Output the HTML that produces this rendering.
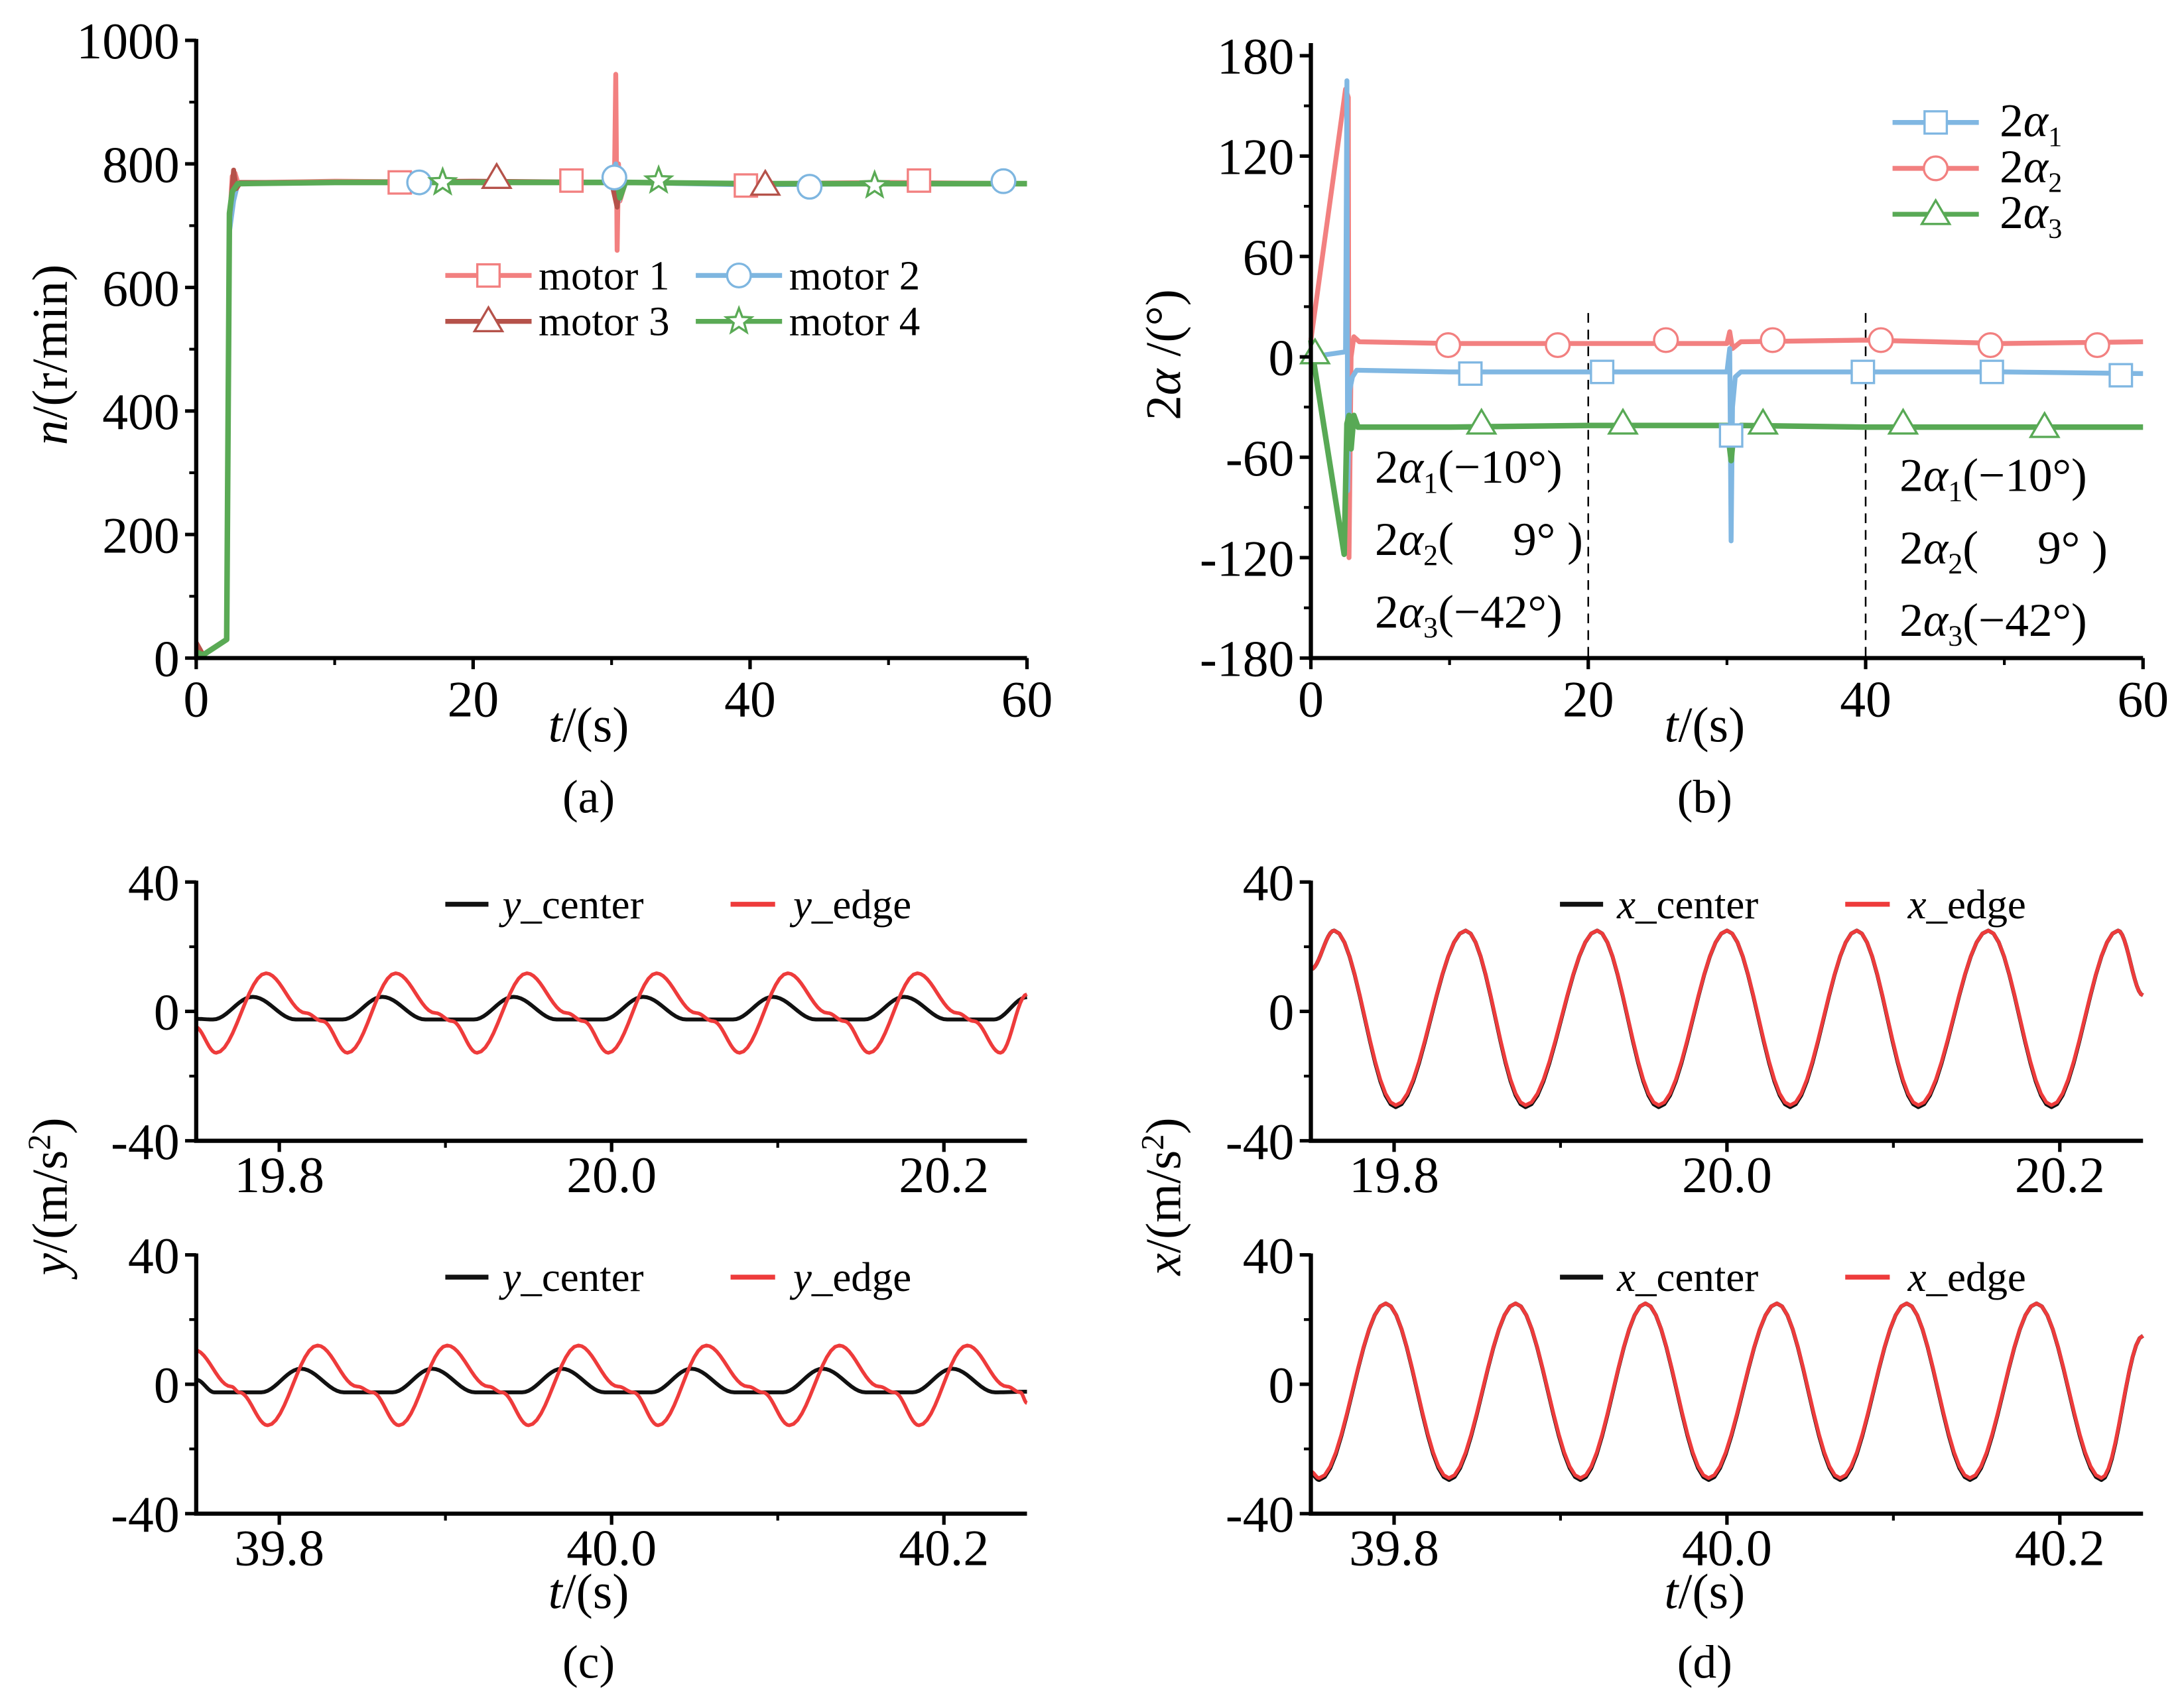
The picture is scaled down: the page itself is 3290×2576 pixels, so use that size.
<!DOCTYPE html>
<html><head><meta charset="utf-8"><style>
html,body{margin:0;padding:0;background:#fff}
svg{display:block;font-family:"Liberation Serif","Times New Roman",serif}
svg text{font-family:"Liberation Serif","Times New Roman",serif;fill:#000;white-space:pre}
</style></head><body>
<svg id="fig" width="3290" height="2576" viewBox="0 0 1568 1227.7" font-family="Liberation Serif, serif" xmlns="http://www.w3.org/2000/svg">
<rect width="1568" height="1228" fill="#fff"/>
</svg>
<script>
// ---------- Panel (a) data ----------
const aT1=[0,0.5,2.2,2.4,2.6,2.8,3,5,10,20,30,30.2,30.3,30.4,30.5,30.6,31,40,50,60];
const aM1=[20,5,30,700,780,785,770,770,772,770,770,760,945,660,800,740,770,768,770,768];
const aT2=[0,0.5,2.2,2.4,2.7,3,10,20,30,30.3,30.5,31,40,50,60];
const aM2=[15,5,30,690,740,768,770,770,770,800,740,770,766,768,768];
const aT3=[0,0.5,2.2,2.4,2.7,2.9,3.2,10,20,30,30.4,30.6,31,40,50,60];
const aM3=[25,5,30,710,790,760,770,770,772,770,730,780,770,768,768,768];
const aT4=[0,0.5,2.2,2.4,2.6,3,10,20,30,30.3,30.6,31,40,50,60];
const aM4=[10,5,30,720,755,768,770,770,770,785,745,770,768,768,768];
const aMk1T=[14.7,27.1,39.7,52.2], aMk1V=[770,773,765,773];
const aMk2T=[16.1,30.2,44.3,58.3], aMk2V=[770,778,763,772];
const aMk3T=[21.7,41.1], aMk3V=[777,766];
const aMk4T=[17.8,33.4,49.0], aMk4V=[770,773,765];
const aXTicks=[0,20,40,60], aYTicks=[0,200,400,600,800,1000];
// ---------- Panel (b) data ----------
const bT1=[0,2.5,2.6,2.65,2.8,3.0,3.3,10,20,30,30.2,30.3,30.4,30.6,31,40,50,60];
const bA1=[0,3,165,-80,-20,-12,-8,-9,-9,-9,5,-110,-30,-12,-9,-9,-9,-10];
const bT2=[0,2.5,2.7,2.75,2.9,3.1,3.5,10,20,30,30.2,30.4,31,40,50,60];
const bA2=[10,160,155,-120,0,12,9,8,8,8,15,5,9,10,8,9];
const bT3=[0,0.15,2.4,2.6,2.75,2.9,3.1,3.4,10,20,30,30.3,30.5,31,40,50,60];
const bA3=[10,0,-118,-40,-35,-55,-35,-42,-42,-41,-41,-62,-45,-41,-42,-42,-42];
const bMk1T=[11.5,21.0,30.3,39.8,49.1,58.4], bMk1V=[-10,-9,-47,-9,-9,-11];
const bMk2T=[9.9,17.8,25.6,33.3,41.1,49.0,56.7], bMk2V=[7,7,10,10,10,7,7];
const bMk3T=[0.3,12.3,22.5,32.6,42.7,52.9], bMk3V=[2,-40,-40,-40,-40,-42];
const bYTicks=[180,120,60,0,-60,-120,-180];
const bYLabels=["180","120","60","0","-60","-120","-180"];
// ---------- Panel (c) data ----------
const cTopRedT=[19.749,19.762,19.792,19.816,19.826,19.841,19.870,19.894,19.904,19.919,19.949,19.973,19.983,19.998,20.027,20.051,20.061,20.077,20.106,20.130,20.140,20.155,20.184,20.208,20.218,20.234,20.25];
const cTopRedV=[-4.6,-12.8,11.8,-0.5,-3,-12.8,11.8,-0.5,-3,-12.8,11.8,-0.5,-3,-12.8,11.8,-0.5,-3,-12.8,11.8,-0.5,-3,-12.8,11.8,-0.5,-3,-12.8,5.3];
const cTopBlkT=[19.75,19.760,19.784,19.810,19.838,19.862,19.888,19.917,19.941,19.967,19.995,20.019,20.045,20.073,20.097,20.123,20.152,20.176,20.202,20.230,20.25];
const cTopBlkV=[-2.3,-2.5,4.5,-2.5,-2.5,4.5,-2.5,-2.5,4.5,-2.5,-2.5,4.5,-2.5,-2.5,4.5,-2.5,-2.5,4.5,-2.5,-2.5,4.4];
const cBotRedT=[39.749,39.771,39.776,39.793,39.823,39.847,39.856,39.872,39.901,39.926,39.934,39.950,39.980,40.004,40.013,40.028,40.057,40.082,40.091,40.107,40.137,40.161,40.170,40.185,40.214,40.238,40.246,40.25];
const cBotRedV=[10.6,-0.7,-2.5,-12.7,12,-0.7,-2.5,-12.7,12,-0.7,-2.5,-12.7,12,-0.7,-2.5,-12.7,12,-0.7,-2.5,-12.7,12,-0.7,-2.5,-12.7,12,-0.7,-2.5,-5.8];
const cBotBlkT=[39.75,39.761,39.789,39.813,39.839,39.868,39.892,39.918,39.946,39.970,39.996,40.024,40.048,40.074,40.103,40.127,40.153,40.181,40.205,40.231,40.25];
const cBotBlkV=[1.4,-2.5,-2.5,4.8,-2.5,-2.5,4.8,-2.5,-2.5,4.8,-2.5,-2.5,4.8,-2.5,-2.5,4.8,-2.5,-2.5,4.8,-2.5,-2.3];
// ---------- Panel (d) data ----------
const dTopT=[19.75,19.764,19.801,19.843,19.879,19.922,19.959,20.0,20.038,20.078,20.115,20.157,20.195,20.235,20.25];
const dTopV=[13,25,-29,25,-29,25,-29,25,-29,25,-29,25,-29,25,5];
const dBotT=[39.75,39.755,39.795,39.833,39.873,39.912,39.951,39.989,40.030,40.068,40.108,40.146,40.186,40.225,40.25];
const dBotV=[-27,-29,25,-29,25,-29,25,-29,25,-29,25,-29,25,-29,15];
const cdYTicks=[-40,0,40];
const topXTicks=[19.8,20.0,20.2], botXTicks=[39.8,40.0,40.2];

const NS="http://www.w3.org/2000/svg";
const svg=document.getElementById('fig');
const FF="Liberation Serif, serif";
function mk(tag,attrs,parent){const e=document.createElementNS(NS,tag);for(const k in attrs)e.setAttribute(k,attrs[k]);if(tag==='text')e.setAttribute('font-family',FF);(parent||svg).appendChild(e);return e;}
function scale(d0,d1,r0,r1){return v=>r0+(v-d0)/(d1-d0)*(r1-r0);}
function polyPts(T,V,sx,sy){return T.map((t,i)=>sx(t).toFixed(2)+','+sy(V[i]).toFixed(2)).join(' ');}
function cosPts(T,V,sx,sy){const p=[];for(let i=0;i<T.length-1;i++){const n=12;for(let k=0;k<n;k++){const f=k/n,w=(1-Math.cos(Math.PI*f))/2;p.push(sx(T[i]+(T[i+1]-T[i])*f).toFixed(2)+','+sy(V[i]+(V[i+1]-V[i])*w).toFixed(2));}}p.push(sx(T[T.length-1]).toFixed(2)+','+sy(V[V.length-1]).toFixed(2));return p.join(' ');}
function txt(x,y,s,size,anchor,parent){const e=mk('text',{x:x,y:y,'font-size':size,'text-anchor':anchor||'start'},parent);e.textContent=s;return e;}
function marker(type,cx,cy,col,g){
  let e;
  if(type==='sq')e=mk('rect',{x:cx-8,y:cy-8,width:16,height:16,fill:'#fff',stroke:col,'stroke-width':1.6},g);
  else if(type==='ci')e=mk('circle',{cx:cx,cy:cy,r:8.5,fill:'#fff',stroke:col,'stroke-width':1.6},g);
  else if(type==='tr')e=mk('polygon',{points:`${cx},${cy-10} ${cx-10},${cy+7} ${cx+10},${cy+7}`,fill:'#fff',stroke:col,'stroke-width':1.6},g);
  else{const p=[];for(let i=0;i<10;i++){const r=i%2?4:9.5,a=-Math.PI/2+i*Math.PI/5;p.push((cx+r*Math.cos(a)).toFixed(1)+','+(cy+r*Math.sin(a)).toFixed(1));}e=mk('polygon',{points:p.join(' '),fill:'#fff',stroke:col,'stroke-width':1.6},g);}
  return e;
}
function axes(g,x0,x1,y0,y1,xt,xs,xlabels,yt,ys,ylabels,xminor,yminor,xoff){
  const a=mk('path',{d:`M${x0},${y1-1} L${x0},${y0} L${x1},${y0}`,fill:'none',stroke:'#000','stroke-width':3},g);
  
  
  xt.forEach((v,i)=>{mk('line',{x1:xs(v),y1:y0,x2:xs(v),y2:y0+8,stroke:'#000','stroke-width':2.5},g);
    const t=txt(xs(v),y0+xoff,xlabels[i],37,'middle',g);});
  xminor.forEach(v=>mk('line',{x1:xs(v),y1:y0,x2:xs(v),y2:y0+5,stroke:'#000','stroke-width':2},g));
  yt.forEach((v,i)=>{mk('line',{x1:x0-8,y1:ys(v),x2:x0,y2:ys(v),stroke:'#000','stroke-width':2.5},g);
    const t=txt(x0-12,ys(v)+13,ylabels[i],37,'end',g);});
  yminor.forEach(v=>mk('line',{x1:x0-5,y1:ys(v),x2:x0,y2:ys(v),stroke:'#000','stroke-width':2},g));
}
function series(g,pts,col,w,name){const p=mk('polyline',{points:pts,fill:'none',stroke:col,'stroke-width':w,'stroke-linejoin':'round'},g);return p;}

// ===== Panel (a) =====
{
const g=mk('g',{});


const sx=scale(0,60,141,738), sy=scale(0,1000,473,29);
const C=['#F28080','#7EB6E0','#B5524A','#5AAA55'];
series(g,polyPts(aT1,aM1,sx,sy),C[0],3.5,'motor-1-line');
series(g,polyPts(aT2,aM2,sx,sy),C[1],3.5,'motor-2-line');
series(g,polyPts(aT3,aM3,sx,sy),C[2],3.5,'motor-3-line');
series(g,polyPts(aT4,aM4,sx,sy),C[3],4,'motor-4-line');
aMk1T.forEach((t,i)=>{const m=marker('sq',sx(t),sy(aMk1V[i]),C[0],g);});
aMk2T.forEach((t,i)=>{const m=marker('ci',sx(t),sy(aMk2V[i]),C[1],g);});
aMk3T.forEach((t,i)=>{const m=marker('tr',sx(t),sy(aMk3V[i]),C[2],g);});
aMk4T.forEach((t,i)=>{const m=marker('st',sx(t),sy(aMk4V[i]),C[3],g);});
axes(g,141,738,473,29,aXTicks,sx,aXTicks.map(String),aYTicks,sy,aYTicks.map(String),[10,30,50],[100,300,500,700,900],42);
const lg=mk('g',{},g);


const L=[[320,198,'sq',C[0],'motor 1'],[500,198,'ci',C[1],'motor 2'],[320,231,'tr',C[2],'motor 3'],[500,231,'st',C[3],'motor 4']];
L.forEach(r=>{mk('line',{x1:r[0],y1:r[1],x2:r[0]+62,y2:r[1],stroke:r[3],'stroke-width':3.5},lg);marker(r[2],r[0]+31,r[1],r[3],lg);const t=txt(r[0]+67,r[1]+10,r[4],30,'start',lg);});
const yt=mk('text',{x:0,y:0,'font-size':36,'text-anchor':'middle',transform:'translate(48,255) rotate(-90)'},g);
yt.innerHTML='<tspan font-style="italic">n</tspan>/(r/min)';


const xt=mk('text',{x:423,y:533,'font-size':36,'text-anchor':'middle'},g);
xt.innerHTML='<tspan font-style="italic">t</tspan>/(s)';


const cap=txt(423,584,'(a)',34,'middle',g);


}

// ===== Panel (b) =====
{
const g=mk('g',{});


const sx=scale(0,60,942,1540), sy=scale(-180,180,473,40);
const C=['#80B7E2','#F28080','#58A955'];
[20,40].forEach(v=>{const d=mk('line',{x1:sx(v),y1:225,x2:sx(v),y2:473,stroke:'#000','stroke-width':1.2,'stroke-dasharray':'7,5'},g);});
series(g,polyPts(bT2,bA2,sx,sy),C[1],3.5,'2alpha2-line');
series(g,polyPts(bT1,bA1,sx,sy),C[0],3.5,'2alpha1-line');
series(g,polyPts(bT3,bA3,sx,sy),C[2],4,'2alpha3-line');
bMk1T.forEach((t,i)=>{const m=marker('sq',sx(t),sy(bMk1V[i]),C[0],g);});
bMk2T.forEach((t,i)=>{const m=marker('ci',sx(t),sy(bMk2V[i]),C[1],g);});
bMk3T.forEach((t,i)=>{const m=marker('tr',sx(t),sy(bMk3V[i]),C[2],g);});
axes(g,942,1540,473,32,aXTicks,sx,aXTicks.map(String),bYTicks,sy,bYLabels,[10,30,50],[150,90,30,-30,-90,-150],42);
const lg=mk('g',{},g);


[[88,'sq',C[0],'1'],[121,'ci',C[1],'2'],[154,'tr',C[2],'3']].forEach(r=>{mk('line',{x1:1360,y1:r[0],x2:1422,y2:r[0],stroke:r[2],'stroke-width':3.5},lg);marker(r[1],1391,r[0],r[2],lg);const t=mk('text',{x:1437,y:r[0]+10,'font-size':34},lg);t.innerHTML='2<tspan font-style="italic">α</tspan><tspan font-size="20" dy="7">'+r[3]+'</tspan>';});
const ann=[['1','(−10°)'],['2','(\u2002\u2002 9° )'],['3','(−42°)']];
[[988,347],[1365,353]].forEach(pos=>{ann.forEach((a,i)=>{const t=mk('text',{x:pos[0],y:pos[1]+i*52,'font-size':34},g);t.innerHTML='2<tspan font-style="italic">α</tspan><tspan font-size="21" dy="7">'+a[0]+'</tspan><tspan dy="-7">'+a[1]+'</tspan>';});});
const yt=mk('text',{x:0,y:0,'font-size':36,'text-anchor':'middle',transform:'translate(848,255) rotate(-90)'},g);
yt.innerHTML='2<tspan font-style="italic">α</tspan> /(°)';


const xt=mk('text',{x:1225,y:533,'font-size':36,'text-anchor':'middle'},g);
xt.innerHTML='<tspan font-style="italic">t</tspan>/(s)';


const cap=txt(1225,584,'(b)',34,'middle',g);


}

// ===== Panels (c),(d) =====
function accPanel(name,x0,x1,yTop,yBot,t0,t1,xt,series1T,series1V,series2T,series2V,letter){
  const g=mk('g',{});
  
  
  const sx=scale(t0,t1,x0,x1), sy=scale(-40,40,yBot,yTop);
  series(g,cosPts(series1T,series1V,sx,sy),'#111',2.8,letter+'-center-line');
  series(g,cosPts(series2T,series2V,sx,sy),'#EE3B3B',2.6,letter+'-edge-line');
  axes(g,x0,x1,yBot,yTop,xt,sx,xt.map(v=>v.toFixed(1)),cdYTicks,sy,cdYTicks.map(String),[xt[0]+0.1,xt[1]+0.1],[-20,20],37);
  const lx=x0+179, ly=yTop+16;
  const lg=mk('g',{},g);
  
  
  mk('line',{x1:lx,y1:ly,x2:lx+31,y2:ly,stroke:'#111','stroke-width':3.5},lg);
  const t1e=mk('text',{x:lx+41,y:ly+10,'font-size':30},lg);t1e.innerHTML='<tspan font-style="italic">'+letter+'</tspan>_center';
  
  
  mk('line',{x1:lx+205,y1:ly,x2:lx+237,y2:ly,stroke:'#EE3B3B','stroke-width':3.5},lg);
  const t2e=mk('text',{x:lx+250,y:ly+10,'font-size':30},lg);t2e.innerHTML='<tspan font-style="italic">'+letter+'</tspan>_edge';
  
  
}
accPanel('panel-c-top',141,738,634,820,19.75,20.25,topXTicks,cTopBlkT,cTopBlkV,cTopRedT,cTopRedV,'y');
accPanel('panel-c-bottom',141,738,902,1088,39.75,40.25,botXTicks,cBotBlkT,cBotBlkV,cBotRedT,cBotRedV,'y');
accPanel('panel-d-top',942,1540,634,820,19.75,20.25,topXTicks,dTopT,dTopV.map(v=>v<0?v-0.6:v),dTopT,dTopV,'x');
accPanel('panel-d-bottom',942,1540,902,1088,39.75,40.25,botXTicks,dBotT,dBotV.map(v=>v<0?v-0.6:v),dBotT,dBotV,'x');
[[48,'y','c',423],[848,'x','d',1225]].forEach(r=>{
  const yt=mk('text',{x:0,y:0,'font-size':36,'text-anchor':'middle',transform:`translate(${r[0]},860) rotate(-90)`});
  yt.innerHTML='<tspan font-style="italic">'+r[1]+'</tspan>/(m/s<tspan font-size="23" dy="-12">2</tspan><tspan dy="12">)</tspan>';
  
  
  const xt=mk('text',{x:r[3],y:1156,'font-size':36,'text-anchor':'middle'});
  xt.innerHTML='<tspan font-style="italic">t</tspan>/(s)';
  
  
  const cap=txt(r[3],1206,'('+r[2]+')',34,'middle');
  
  
});
</script>
</body></html>
